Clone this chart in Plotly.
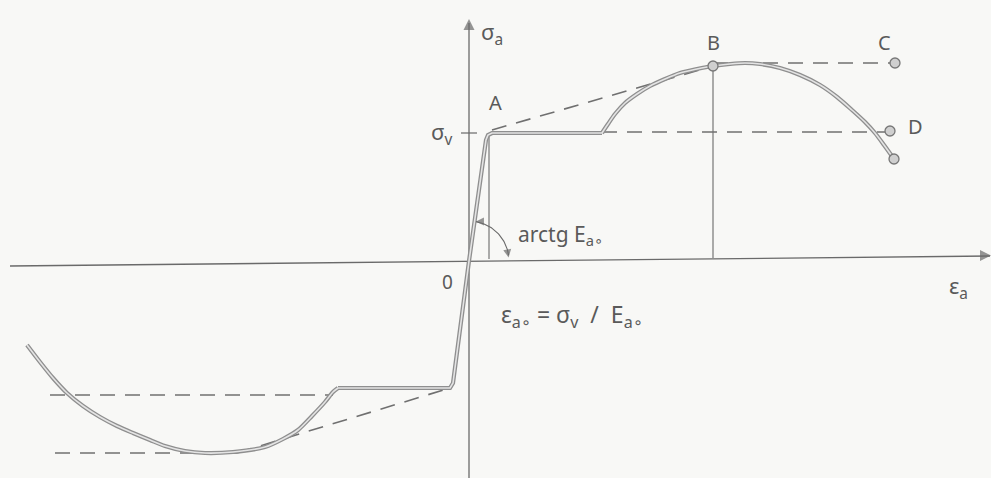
import numpy as np
import plotly.graph_objects as go

# Idealised stress-strain diagram for reinforcing steel.
# Coordinates: strain to the right, stress upwards, origin at 0.

# Tension: elastic line and yield plateau
tension_lin_eps = [0, 17, 19, 23, 133]
tension_lin_sig = [0, 121, 126, 128, 128]
# Tension: hardening up to B, then softening
tension_curve_eps = [133, 139, 146, 156, 168, 181, 196, 211, 228, 244,
                     261, 276, 291, 311, 331, 351, 368, 383, 396, 406, 415, 425]
tension_curve_sig = [128, 137, 147, 158, 167, 175, 182, 188, 192, 195,
                     197, 198, 197, 193, 186, 176, 164, 151, 139, 128, 116, 102]

# Compression: elastic line and plateau
comp_lin_eps = [0, -16, -19, -131]
comp_lin_sig = [0, -122, -127, -127]
# Compression: hardening and softening
comp_curve_eps = [-131, -136, -144, -157, -171, -186, -204, -236, -264,
                  -284, -304, -319, -336, -352, -369, -386, -402, -416, -429, -442]
comp_curve_sig = [-127, -131, -141, -155, -169, -178, -186, -191, -192,
                  -190, -185, -179, -172, -165, -156, -145, -132, -117, -101, -84]

# Characteristic points
point_B = (244, 195)
point_C = (426, 198)
point_D = (421, 130)
point_end = (425, 102)
sigma_v = 128
eps_a0 = 20

# Idealised (dashed) diagrams
dash_segments = [
    ([23, 244], [131, 195]),            # A -> B
    ([244, 426], [198, 198]),           # B -> C
    ([133, 421], [129, 129]),           # plateau -> D
    ([-419, -136], [-134, -134]),       # compression plateau level
    ([-414, -232], [-192, -192]),       # compression ultimate level
    ([-232, -19], [-192, -127]),        # compression hardening line
]

ink = "#6a6a6a"
text_col = "#5a5a5a"
font_family = "Noto Sans, DejaVu Sans, sans-serif"

fig = go.Figure()


def line(xs, ys, color=ink, width=1.2, dash=None, shape="linear"):
    fig.add_trace(go.Scatter(x=xs, y=ys, mode="lines",
                             line=dict(color=color, width=width, dash=dash,
                                       shape=shape, smoothing=0.8),
                             hoverinfo="skip"))


# Axes
line([-459, 521], [-5, 5], width=1.3)
line([0, 0], [-217, 238], width=1.3)

# Guide lines: yield strain and strain at B
line([eps_a0, eps_a0], [2, sigma_v], width=1.1)
line([point_B[0], point_B[0]], [3, point_B[1]], width=1.1)
# Tick for sigma_v on the stress axis
line([-8, 8], [sigma_v, sigma_v], width=1.2)

for xs, ys in dash_segments:
    line(xs, ys, color="#707070", width=1.6, dash="15px,10px")

# Real diagram: hollow double stroke (outer strokes first, then inner)
branches = [
    (tension_lin_eps, tension_lin_sig, "linear"),
    (tension_curve_eps, tension_curve_sig, "spline"),
    (comp_lin_eps, comp_lin_sig, "linear"),
    (comp_curve_eps, comp_curve_sig, "spline"),
]
for xs, ys, shp in branches:
    line(xs, ys, color="#8f8f8f", width=4.2, shape=shp)
for xs, ys, shp in branches:
    line(xs, ys, color="#e4e4e4", width=1.6, shape=shp)

# Angle arc for arctg E_a0
theta = np.linspace(np.radians(80), np.radians(8), 40)
r = 40
line(r * np.cos(theta), r * np.sin(theta), width=1.1)

# Arrowheads: axis ends and both ends of the angle arc
heads_x = [0, 522, r * np.cos(theta[-1]), r * np.cos(theta[0])]
heads_y = [242, 5.5, r * np.sin(theta[-1]) - 2, r * np.sin(theta[0])]
heads_angle = [0, 90, 170, 270]
fig.add_trace(go.Scatter(x=heads_x, y=heads_y, mode="markers",
                         marker=dict(symbol="arrow-up", size=[11, 11, 8, 8],
                                     angle=heads_angle, color=ink,
                                     line=dict(width=0)),
                         hoverinfo="skip"))

# Markers at the characteristic points
pts = [point_B, point_C, point_D, point_end]
fig.add_trace(go.Scatter(x=[p[0] for p in pts], y=[p[1] for p in pts], mode="markers",
                         marker=dict(size=10, color="#cfcfcf",
                                     line=dict(color="#777777", width=1.3)),
                         hoverinfo="skip"))

annotations = []


def label(x, y, text, size=22, anchor="center"):
    annotations.append(dict(x=x, y=y, xref="x", yref="y", text=text, showarrow=False,
                            xanchor=anchor, yanchor="middle",
                            font=dict(family=font_family, size=size, color=text_col)))


nb = "\u00a0"
label(10, 228, "σ<sub>a</sub>", anchor="left")
label(-14, 128, "σ<sub>v</sub>", anchor="right")
label(26, 159, "A", size=20)
label(244, 219, "B", size=20)
label(415, 219, "C", size=20)
label(446, 135, "D", size=20)
label(-22, -21, "0", size=19)
label(47, 26, "arctg E<sub>a∘</sub>", size=21, anchor="left")
label(30, -54,
      f"ε<sub>a∘</sub>{nb}={nb}σ<sub>v</sub>{nb}{nb}/{nb}{nb}E<sub>a∘</sub>",
      size=23, anchor="left")
label(489, -26, "ε<sub>a</sub>", size=22)

fig.update_layout(
    width=991, height=478,
    margin=dict(l=0, r=0, t=0, b=0),
    paper_bgcolor="#f8f8f6", plot_bgcolor="#f8f8f6",
    showlegend=False,
    xaxis=dict(range=[-469, 522], visible=False, fixedrange=True),
    yaxis=dict(range=[-217, 261], visible=False, fixedrange=True),
    annotations=annotations,
)

fig.write_html("out.html")
